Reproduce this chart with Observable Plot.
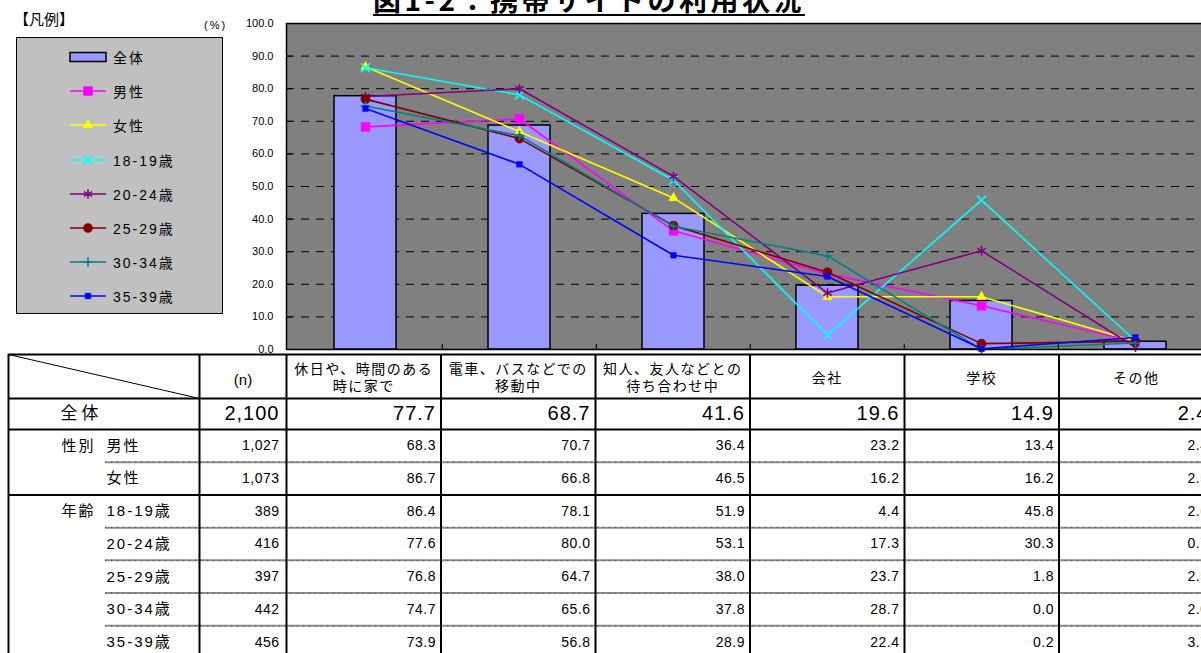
<!DOCTYPE html>
<html>
<head>
<meta charset="utf-8">
<script src="https://cdn.jsdelivr.net/npm/d3@7"></script>
<script src="https://cdn.jsdelivr.net/npm/@observablehq/plot@0.6"></script>
<style>
html, body { margin: 0; padding: 0; overflow: hidden; background: #fff; }
#wrap { position: relative; width: 1201px; height: 653px; overflow: hidden;
  font-family: "Liberation Sans", "Noto Sans CJK JP", sans-serif; color: #000; }
#wrap > svg, #wrap > figure { position: absolute; left: 0; top: 0; margin: 0; }
#title { position: absolute; left: 300px; width: 578px; top: -15px; text-align: center;
  font-family: "Noto Sans CJK JP", sans-serif; font-weight: bold; font-size: 28px; line-height: 28px;
  letter-spacing: 3.5px; text-decoration: underline; text-decoration-thickness: 2px; text-underline-offset: 3px; white-space: nowrap; }
#legendTitle { position: absolute; left: 14px; top: 9px; font-size: 15px; line-height: 20px; font-family: "Noto Sans CJK JP", sans-serif; }
#unit { position: absolute; left: 204px; top: 17px; font-size: 11px; line-height: 16px; letter-spacing: 2px; }
#legend { position: absolute; left: 16px; top: 37px; width: 207px; height: 277px; background: #C0C0C0;
  border: 1.5px solid #000; box-sizing: border-box; }
.item { position: absolute; left: 52px; height: 20px; display: flex; align-items: center; font-size: 14px; letter-spacing: 2px; }
.item svg { display: block; margin-right: 4px; }
</style>
</head>
<body>
<div id="wrap"></div>
<script>
// ---------- data ----------
const categories = ["休日や、時間のある時に家で", "電車、バスなどでの移動中", "知人、友人などとの待ち合わせ中", "会社", "学校", "その他"];
const headerLabels = ["休日や、時間のある\n時に家で", "電車、バスなどでの\n移動中", "知人、友人などとの\n待ち合わせ中", "会社", "学校", "その他"];
const seriesNames = ["全体", "男性", "女性", "18-19歳", "20-24歳", "25-29歳", "30-34歳", "35-39歳"];
const groupNames = ["", "性別", "", "年齢", "", "", "", ""];
const sampleSizes = [2100, 1027, 1073, 389, 416, 397, 442, 456];
const total   = [77.7, 68.7, 41.6, 19.6, 14.9, 2.4];
const male    = [68.3, 70.7, 36.4, 23.2, 13.4, 2.4];
const female  = [86.7, 66.8, 46.5, 16.2, 16.2, 2.5];
const age1819 = [86.4, 78.1, 51.9, 4.4, 45.8, 2.6];
const age2024 = [77.6, 80.0, 53.1, 17.3, 30.3, 0.7];
const age2529 = [76.8, 64.7, 38.0, 23.7, 1.8, 2.5];
const age3034 = [74.7, 65.6, 37.8, 28.7, 0.0, 2.0];
const age3539 = [73.9, 56.8, 28.9, 22.4, 0.2, 3.7];
const yTicks = [0, 10, 20, 30, 40, 50, 60, 70, 80, 90, 100];
const titleText = "図1-2：携帯サイトの利用状況";
const legendTitleText = "【凡例】";
const unitText = "(%)";
const nHeader = "(n)";

// ---------- styles ----------
const FONT = '"Liberation Sans", "Noto Sans CJK JP", sans-serif';
const barStyle = {fill: "#9999FF", stroke: "#000"};
const seriesStyle = {
  "男性":    {color: "#FF00FF", symbol: "square",   r: 5.0, filled: true},
  "女性":    {color: "#FFFF00", symbol: "triangle", r: 3.5, filled: true},
  "18-19歳": {color: "#00FFFF", symbol: "times",    r: 4.2, filled: false},
  "20-24歳": {color: "#800080", symbol: "asterisk", r: 4.5, filled: false},
  "25-29歳": {color: "#800000", symbol: "circle",   r: 4.6, filled: true},
  "30-34歳": {color: "#008080", symbol: "plus",     r: 3.2, filled: false},
  "35-39歳": {color: "#0000FF", symbol: "square",   r: 3.2, filled: true}
};

const allValues = [total, male, female, age1819, age2024, age2529, age3034, age3539];
const lineSeries = seriesNames.slice(1);
const bars = categories.map((c, j) => ({cat: c, value: total[j]}));
const long = [];
lineSeries.forEach((s, i) => categories.forEach((c, j) => long.push({series: s, cat: c, value: allValues[i + 1][j]})));

const W = 1201;
const plotLeft = 286, plotRight = 1213;
const bw = (plotRight - plotLeft) / categories.length;

const seriesMarks = [];
for (const s of lineSeries) {
  const st = seriesStyle[s];
  const d = long.filter(e => e.series === s);
  seriesMarks.push(Plot.line(d, {x: "cat", y: "value", stroke: st.color, strokeWidth: 1.6}));
  seriesMarks.push(Plot.dot(d, {x: "cat", y: "value", symbol: () => st.symbol, r: st.r,
    fill: st.filled ? st.color : "none", stroke: st.color, strokeWidth: st.filled ? 0.5 : 1.6}));
}

const chart = Plot.plot({
  width: W, height: 354,
  marginLeft: plotLeft, marginRight: W - plotRight, marginTop: 23, marginBottom: 5,
  x: {type: "band", domain: categories, padding: 0, axis: null},
  y: {type: "linear", domain: [0, 100], axis: null},
  symbol: {type: "identity"},
  style: {fontFamily: FONT, fontSize: "11px", color: "#000", background: "white"},
  marks: [
    Plot.frame({fill: "#808080"}),
    Plot.gridY(yTicks.slice(1, -1), {stroke: "#000", strokeOpacity: 1, strokeWidth: 1, strokeDasharray: "8,7"}),
    Plot.barY(bars, {x: "cat", y: "value", fill: barStyle.fill, stroke: barStyle.stroke, strokeWidth: 1.5, insetLeft: 46, insetRight: 46}),
    ...seriesMarks,
    Plot.ruleX(categories.slice(1), {x: d => d, y1: 0, y2: 1.6, dx: -bw / 2, stroke: "#000"}),
    Plot.frame({stroke: "#000", strokeWidth: 1.5}),
    Plot.axisY(yTicks, {tickSize: -6, tickFormat: () => "", label: null, stroke: "#000"}),
    Plot.axisY(yTicks, {tickSize: 0, tickPadding: 13, tickFormat: d => d.toFixed(1), label: null, fontSize: 11, fill: "#000"})
  ]
});

// ---------- table ----------
const colLines = [0, 2, 3, 4, 5, 6, 7, 8, 9];
const thickRows = [0, 1, 2, 4, 9];
const thinRows = [3, 5, 6, 7, 8];
const rowsData = seriesNames.map((s, i) => ({name: s, group: groupNames[i], n: sampleSizes[i], row: i + 1, values: allValues[i]}));
const cellData = [];
rowsData.forEach(r => r.values.forEach((v, j) => cellData.push({row: r.row, col: j, v})));

const table = Plot.plot({
  width: W, height: 653, margin: 0,
  x: {type: "linear", domain: [0, 1, 2, 3, 9], range: [8, 105, 199, 286, 1213], axis: null},
  y: {type: "linear", domain: [0, 1, 2, 9], range: [354, 398, 429, 658], axis: null},
  style: {fontFamily: FONT, color: "#000", background: "transparent"},
  marks: [
    Plot.rect([0], {x1: 0, x2: 9, y1: 0, y2: 9, fill: "white"}),
    Plot.ruleY(thinRows, {x1: 1, x2: 9, stroke: "#8a8a8a", strokeWidth: 2}),
    Plot.ruleY(thinRows, {x1: 1, x2: 9, stroke: "#444", strokeWidth: 1, strokeDasharray: "1,5"}),
    Plot.ruleY(thickRows, {x1: 0, x2: 9, stroke: "#000", strokeWidth: 2}),
    Plot.ruleX(colLines, {y1: 0, y2: 9, stroke: "#000", strokeWidth: 2}),
    Plot.link([0], {x1: 0, y1: 0, x2: 2, y2: 1, stroke: "#000", strokeWidth: 1}),
    // 0 header categories
    Plot.text(headerLabels, {x: (d, i) => i + 3.5, y: 0.5, dy: 1, text: d => d, fontSize: 14, lineHeight: 1.2, fill: "#000"}),
    // 1 (n)
    Plot.text([nHeader], {x: 2.5, y: 0.5, dy: 4, text: d => d, fontSize: 15, fill: "#000"}),
    // 2 全体 label
    Plot.text(rowsData.slice(0, 1), {x: 0, y: d => d.row + 0.5, dx: 52, text: "name", textAnchor: "start", fontSize: 17, fill: "#000"}),
    // 3 group labels
    Plot.text(rowsData.filter(d => d.group), {x: 0, y: d => d.row + 0.5, dx: 53, text: "group", textAnchor: "start", fontSize: 15, fill: "#000"}),
    // 4 sub labels
    Plot.text(rowsData.slice(1), {x: 1, y: d => d.row + 0.5, dx: 1, text: "name", textAnchor: "start", fontSize: 15, fill: "#000"}),
    // 5 n 全体
    Plot.text(rowsData.slice(0, 1), {x: 3, y: d => d.row + 0.5, dx: -7, text: d => d3.format(",")(d.n), textAnchor: "end", fontSize: 20, fill: "#000"}),
    // 6 n others
    Plot.text(rowsData.slice(1), {x: 3, y: d => d.row + 0.5, dx: -7, text: d => d3.format(",")(d.n), textAnchor: "end", fontSize: 14, fill: "#000"}),
    // 7 values 全体
    Plot.text(cellData.filter(d => d.row === 1), {x: d => d.col + 4, y: d => d.row + 0.5, dx: -5, text: d => d.v.toFixed(1), textAnchor: "end", fontSize: 20, fill: "#000"}),
    // 8 values others
    Plot.text(cellData.filter(d => d.row > 1), {x: d => d.col + 4, y: d => d.row + 0.5, dx: -5, text: d => d.v.toFixed(1), textAnchor: "end", fontSize: 14, fill: "#000"})
  ]
});
const spacing = ["1.5px", "0px", "4px", "2px", "2px", "1px", "0.5px", "1px", "0.5px"];
table.querySelectorAll('g[aria-label="text"]').forEach((g, i) => { g.style.letterSpacing = spacing[i] || "0px"; });

const wrap = document.getElementById("wrap");
wrap.appendChild(chart);
wrap.appendChild(table);

// ---------- title, unit, legend ----------
const title = document.createElement("div"); title.id = "title"; title.textContent = titleText; wrap.appendChild(title);
const lt = document.createElement("div"); lt.id = "legendTitle"; lt.textContent = legendTitleText; wrap.appendChild(lt);
const unit = document.createElement("div"); unit.id = "unit"; unit.textContent = unitText; wrap.appendChild(unit);

const symbolMap = {square: d3.symbolSquare, triangle: d3.symbolTriangle, times: d3.symbolTimes,
  asterisk: d3.symbolAsterisk, circle: d3.symbolCircle, plus: d3.symbolPlus};
const legend = document.createElement("div"); legend.id = "legend"; wrap.appendChild(legend);
seriesNames.forEach((s, i) => {
  const item = document.createElement("div");
  item.className = "item";
  item.style.top = (9 + i * 34.2) + "px";
  let sw;
  if (i === 0) {
    sw = `<svg width="40" height="14"><rect x="1" y="2.5" width="36" height="9" fill="${barStyle.fill}" stroke="#000" stroke-width="1.5"/></svg>`;
  } else {
    const st = seriesStyle[s];
    const p = d3.symbol(symbolMap[st.symbol], Math.PI * st.r * st.r)();
    sw = `<svg width="40" height="14"><line x1="1" x2="37" y1="7" y2="7" stroke="${st.color}" stroke-width="1.6"/>` +
      `<path transform="translate(19,7)" d="${p}" fill="${st.filled ? st.color : "none"}" stroke="${st.color}" stroke-width="${st.filled ? 0.5 : 1.6}"/></svg>`;
  }
  item.innerHTML = sw + `<span>${s}</span>`;
  legend.appendChild(item);
});
</script>
</body>
</html>
